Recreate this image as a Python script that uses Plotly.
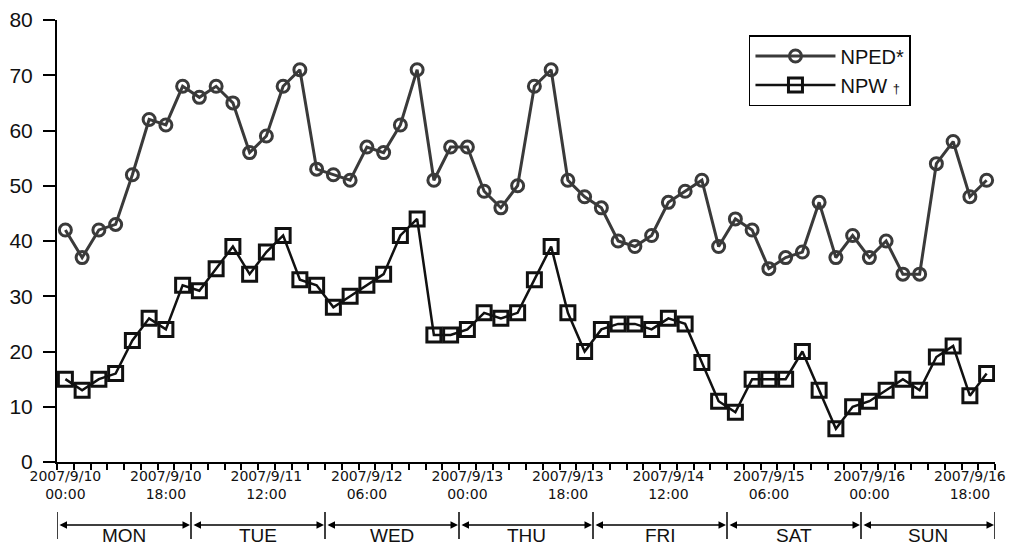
import plotly.graph_objects as go

# 3-hourly observation slots, 2007/9/10 00:00 .. 2007/9/16 21:00
nped = [42, 37, 42, 43, 52, 62, 61, 68, 66, 68, 65, 56, 59, 68, 71, 53,
        52, 51, 57, 56, 61, 71, 51, 57, 57, 49, 46, 50, 68, 71, 51, 48,
        46, 40, 39, 41, 47, 49, 51, 39, 44, 42, 35, 37, 38, 47, 37, 41,
        37, 40, 34, 34, 54, 58, 48, 51]
npw = [15, 13, 15, 16, 22, 26, 24, 32, 31, 35, 39, 34, 38, 41, 33, 32,
       28, 30, 32, 34, 41, 44, 23, 23, 24, 27, 26, 27, 33, 39, 27, 20,
       24, 25, 25, 24, 26, 25, 18, 11, 9, 15, 15, 15, 20, 13, 6, 10,
       11, 13, 15, 13, 19, 21, 12, 16]

tick_positions = [0, 6, 12, 18, 24, 30, 36, 42, 48, 54]
tick_labels = ["2007/9/10<br>00:00", "2007/9/10<br>18:00", "2007/9/11<br>12:00",
               "2007/9/12<br>06:00", "2007/9/13<br>00:00", "2007/9/13<br>18:00",
               "2007/9/14<br>12:00", "2007/9/15<br>06:00", "2007/9/16<br>00:00",
               "2007/9/16<br>18:00"]
days = ["MON", "TUE", "WED", "THU", "FRI", "SAT", "SUN"]
slots_per_day = 8

x = list(range(len(nped)))
SANS = "Liberation Sans, Arial, sans-serif"

fig = go.Figure()
fig.add_trace(go.Scatter(
    x=x, y=nped, name="NPED*", mode="lines+markers",
    line=dict(color="#3a3a3a", width=3),
    marker=dict(symbol="circle-open", size=12, color="#3a3a3a", line=dict(width=3)),
))
fig.add_trace(go.Scatter(
    x=x, y=npw, name="NPW <span style='font-size:13px'>†</span>", mode="lines+markers",
    line=dict(color="#111111", width=2.5),
    marker=dict(symbol="square-open", size=14, color="#111111", line=dict(width=3)),
))

n = len(nped)
fig.update_xaxes(
    range=[-0.5, n - 0.5], showline=True, linecolor="black", linewidth=2,
    showgrid=False, zeroline=False, automargin=False,
    tickmode="array", tickvals=tick_positions, ticktext=tick_labels,
    ticks="", tickfont=dict(family="DejaVu Sans", size=14, color="#111"),
    minor=dict(tickvals=[i - 0.5 for i in range(n + 1)], ticks="outside",
               ticklen=6, tickwidth=1.5, tickcolor="black", showgrid=False),
)
fig.update_yaxes(
    range=[0, 80], dtick=10, showline=True, linecolor="black", linewidth=2,
    showgrid=False, zeroline=False, automargin=False,
    ticks="outside", ticklen=12, tickwidth=1.5,
    tickcolor="black", tickfont=dict(family=SANS, size=21, color="#111"),
    ticklabelstandoff=6,
)

# day brackets under the axis
y_bar0, y_bar1, y_arrow, y_text = -0.113, -0.174, -0.1425, -0.1663
for k in range(len(days) + 1):
    xb = k * slots_per_day - 0.5
    fig.add_shape(type="line", xref="x", yref="paper", x0=xb, x1=xb,
                  y0=y_bar0, y1=y_bar1, line=dict(color="black", width=1.5))
for k, d in enumerate(days):
    x0 = k * slots_per_day - 0.5
    x1 = (k + 1) * slots_per_day - 0.5
    fig.add_annotation(x=x1, y=y_arrow, xref="x", yref="paper",
                       ax=x0, ay=0, axref="x", ayref="pixel",
                       text="", showarrow=True, arrowhead=2, arrowside="end+start",
                       arrowsize=1, arrowwidth=1.5, arrowcolor="black",
                       standoff=1, startstandoff=1)
    fig.add_annotation(x=(x0 + x1) / 2, y=y_text, xref="x", yref="paper",
                       text=d, showarrow=False, yanchor="middle",
                       font=dict(family=SANS, size=19, color="#111"))

fig.update_layout(
    width=1010, height=549,
    margin=dict(l=57, r=15, t=20, b=87),
    paper_bgcolor="white", plot_bgcolor="white",
    showlegend=True,
    legend=dict(x=0.7377, y=0.966, xanchor="left", yanchor="top",
                bordercolor="black", borderwidth=1.5, bgcolor="white",
                font=dict(family=SANS, size=20, color="#111"),
                tracegroupgap=0, itemwidth=80),
)

fig.write_html("out.html",
               config={"displayModeBar": False},
               post_script="document.body.style.margin='0';"
                           "document.body.style.overflow='hidden';")
